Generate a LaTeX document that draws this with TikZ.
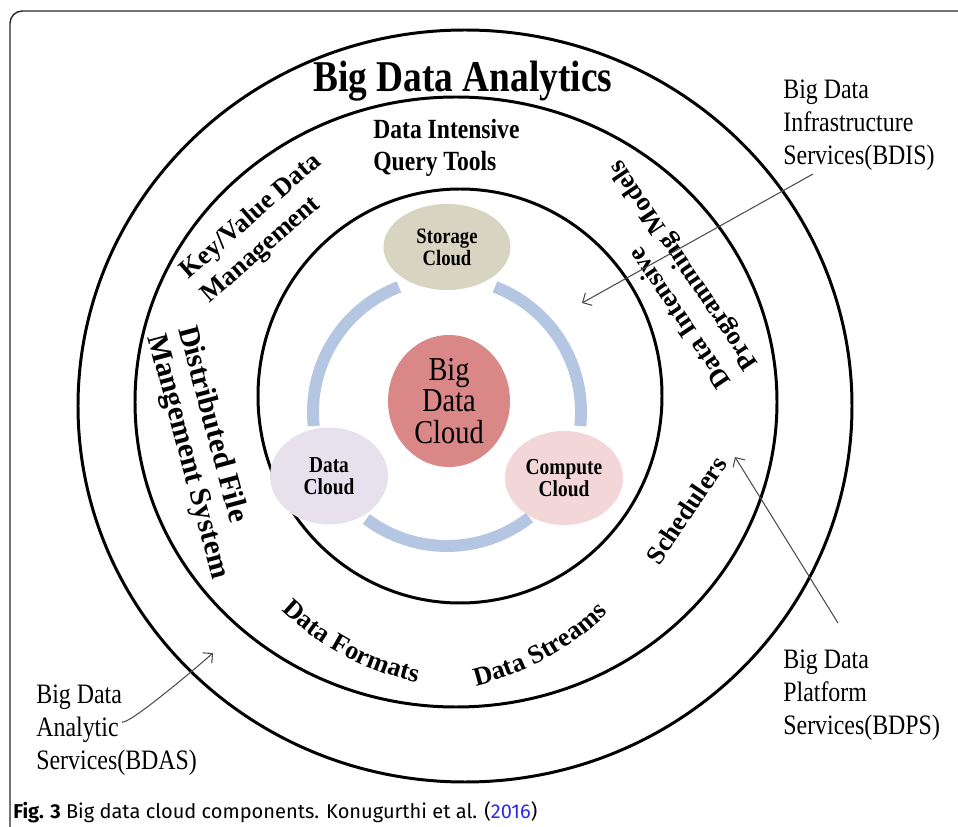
\documentclass[tikz,border=0pt]{standalone}
\usepackage{fontspec}
\setmainfont{Liberation Serif}
\newfontfamily\narrowserif[FakeStretch=0.85]{Liberation Serif}
\newfontfamily\capfont{Fira Sans}
\usetikzlibrary{shapes.geometric,arrows.meta,decorations.text}

\definecolor{ringblue}{HTML}{B4C6E2}
\definecolor{storagefill}{HTML}{D7D4C1}
\definecolor{bigfill}{HTML}{D98787}
\definecolor{datafill}{HTML}{E7E1EE}
\definecolor{computefill}{HTML}{F2D6D8}
\definecolor{linkblue}{HTML}{2A2AE8}

\begin{document}
\begin{tikzpicture}[x=0.02cm,y=0.02cm,
  band/.style={line width=1.7pt},
  cloud/.style={ellipse,inner sep=0pt,align=center,font=\narrowserif\bfseries\fontsize{13}{12.5}\selectfont},
  ringtext/.style={align=left,inner sep=0pt,font=\bfseries\fontsize{15}{18}\selectfont},
  service/.style={anchor=north west,align=left,inner sep=0pt,font=\narrowserif\fontsize{16}{18.7}\selectfont},
  pointer/.style={draw=black!70,line width=0.6pt,-{Straight Barb[length=4pt,width=8pt]}}]

\useasboundingbox (0,0) rectangle (958,826);

% frame
\draw[black!85,line width=0.8pt,rounded corners=7pt] (10,-10) -- (10,815) -- (970,815);

% the three rings
\draw[band] (465,420) ellipse [x radius=387, y radius=376];
\draw[band] (456,424) ellipse [x radius=321, y radius=305];
\draw[band] (460,430) ellipse [x radius=202, y radius=207];

% blue ring round the core
\coordinate (hub) at (447,414);
\foreach \a in {111,233,354}
  \draw[ringblue,line width=6.8pt] (hub) ++(\a:134) arc[start angle=\a,delta angle=75,radius=134];

% clouds
\node[cloud,fill=storagefill,minimum width=2.54cm,minimum height=1.72cm,
      font=\narrowserif\bfseries\fontsize{12.5}{12.5}\selectfont] (storage) at (447,579) {Storage\\Cloud};
\node[cloud,fill=bigfill,minimum width=2.44cm,minimum height=2.64cm,
      font=\narrowserif\fontsize{19}{18}\selectfont] (bigdata) at (449,425) {Big\\Data\\Cloud};
\node[cloud,fill=datafill,minimum width=2.36cm,minimum height=1.94cm] (datacloud) at (329,350) {Data\\Cloud};
\node[cloud,fill=computefill,minimum width=2.36cm,minimum height=1.88cm] (compute) at (564,348) {Compute\\Cloud};

% band texts
\node[anchor=base,inner sep=0pt,font=\narrowserif\bfseries\fontsize{25}{30}\selectfont] (title) at (463,734) {Big Data Analytics};
\node[ringtext,anchor=west,font=\narrowserif\bfseries\fontsize{15.8}{18}\selectfont] (querytools) at (373,678) {Data Intensive\\Query Tools};
\node[ringtext,anchor=west,rotate=41] (keyvalue) at (195,539) {Key/Value Data\\Management};
\node[ringtext,anchor=west,rotate=-75,font=\bfseries\fontsize{17}{18}\selectfont] (dfs) at (170,495) {Distributed File\\Mangement System};
\node[ringtext,anchor=west,rotate=124] (progmodels) at (740,450) {Data Intensive\\Programming Models};
\node[ringtext,rotate=56] (schedulers) at (686,316) {Schedulers};
\path[decorate,decoration={text along path,text align=center,
      text={|\bfseries\fontsize{15}{18}\selectfont|Data Formats}}]
  (478,422) ++(226:285) arc[start angle=226,end angle=258,radius=285];
\path[decorate,decoration={text along path,text align=center,
      text={|\bfseries\fontsize{15}{18}\selectfont|Data Streams}}]
  (409,417) ++(284:285) arc[start angle=284,end angle=314,radius=285];

% service labels
\node[service] (bdis) at (783,746) {Big Data\\Infrastructure\\Services(BDIS)};
\node[service] (bdps) at (783,176) {Big Data\\Platform\\Services(BDPS)};
\node[service] (bdas) at (36,141) {Big Data\\Analytic\\Services(BDAS)};

\coordinate (bdis tip) at (582,523);
\coordinate (bdps tip) at (735,369);
\coordinate (bdas tip) at (213,173);
\draw[pointer] ([shift={(30,-3)}]bdis.south west) -- (bdis tip);
\draw[pointer] ([shift={(55,27)}]bdps.north west) -- (bdps tip);
\draw[pointer] ([shift={(86,-37)}]bdas.north west) .. controls +(6,-3) and +(-25,-22) .. (bdas tip);

% caption
\node[anchor=base west,inner sep=0pt,font=\capfont\fontsize{11.4}{13}\selectfont] (caption) at (13,8)
  {\textbf{Fig. 3} Big data cloud components. Konugurthi et al. (\textcolor{linkblue}{2016})};
\end{tikzpicture}
\end{document}
